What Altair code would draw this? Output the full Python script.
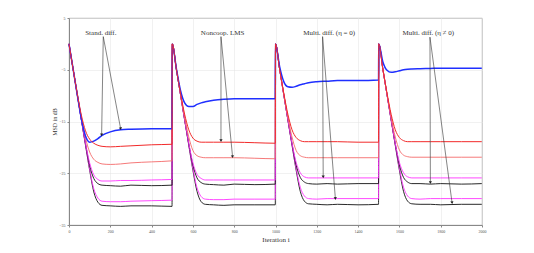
import math
import altair as alt
import pandas as pd

# offsets inside each 500-iteration block
O = [0, 20, 40, 60, 80, 100, 120, 140, 160, 200, 250, 300, 400, 499]

blue = [
    [0, -4.9, -9.8, -14.5, -17.8, -19.0, -18.8, -18.3, -17.7, -17.0, -16.6, -16.5, -16.4, -16.4],
    [0, -4.8, -9.0, -11.4, -12.1, -12.1, -11.7, -11.4, -11.2, -10.9, -10.7, -10.6, -10.6, -10.6],
    [0, -4.4, -7.3, -8.3, -8.4, -8.2, -7.9, -7.7, -7.5, -7.3, -7.2, -7.1, -7.1, -7.0],
    [0, -3.5, -5.1, -5.5, -5.4, -5.2, -5.0, -4.9, -4.85, -4.8, -4.75, -4.7, -4.7, -4.7],
]
red = [
    [0, -4.9, -9.6, -13.8, -16.8, -18.4, -19.2, -19.6, -19.8, -19.9, -19.8, -19.7, -19.5, -19.4],
    [0, -4.9, -9.5, -13.6, -16.6, -18.2, -18.8, -19.0, -19.0, -19.0, -19.0, -19.0, -19.1, -19.2],
    [0, -4.9, -9.5, -13.6, -16.6, -18.1, -18.7, -18.9, -18.9, -18.9, -18.9, -18.9, -19.0, -19.0],
    [0, -4.9, -9.5, -13.6, -16.6, -18.1, -18.7, -18.9, -18.9, -18.9, -18.9, -18.9, -18.9, -18.9],
]
lightred = [
    [0, -4.9, -9.7, -14.3, -18.2, -20.9, -22.3, -22.9, -23.2, -23.3, -23.2, -23.0, -22.8, -22.6],
    [0, -4.9, -9.7, -14.2, -18.0, -20.6, -21.6, -21.9, -22.0, -22.0, -22.0, -22.0, -22.1, -22.2],
    [0, -4.9, -9.7, -14.2, -18.0, -20.6, -21.6, -21.9, -22.0, -22.0, -22.0, -22.0, -22.0, -22.0],
    [0, -4.9, -9.7, -14.2, -18.0, -20.5, -21.5, -21.8, -21.9, -21.9, -21.9, -21.9, -21.9, -21.9],
]
magenta = [
    [0, -4.9, -9.8, -14.6, -19.2, -23.0, -25.3, -26.2, -26.5, -26.5, -26.4, -26.4, -26.3, -26.2],
    [0, -4.9, -9.8, -14.6, -19.2, -23.0, -25.2, -26.0, -26.3, -26.3, -26.3, -26.3, -26.3, -26.3],
    [0, -4.9, -9.8, -14.6, -19.2, -22.9, -24.9, -25.7, -25.9, -25.9, -25.9, -25.9, -25.9, -25.9],
    [0, -4.9, -9.8, -14.6, -19.2, -22.9, -24.9, -25.7, -25.9, -25.9, -25.9, -25.9, -25.9, -25.9],
]
black = [
    [0, -4.9, -9.8, -14.6, -19.3, -23.5, -26.0, -27.0, -27.3, -27.4, -27.5, -27.3, -27.4, -27.3],
    [0, -4.9, -9.8, -14.6, -19.3, -23.4, -25.9, -26.8, -27.1, -27.2, -27.3, -27.1, -27.2, -27.1],
    [0, -4.9, -9.8, -14.6, -19.3, -23.4, -25.8, -26.7, -27.0, -27.1, -27.0, -27.1, -27.0, -27.0],
    [0, -4.9, -9.8, -14.6, -19.3, -23.4, -25.8, -26.7, -27.0, -27.0, -27.1, -27.0, -27.1, -27.0],
]
magenta2 = [
    [0, -4.9, -9.8, -14.7, -19.5, -24.2, -28.0, -29.8, -30.4, -30.5, -30.5, -30.4, -30.3, -30.2],
    [0, -4.9, -9.8, -14.7, -19.5, -24.1, -27.8, -29.5, -30.0, -30.1, -30.1, -30.0, -30.0, -30.0],
    [0, -4.9, -9.8, -14.7, -19.5, -24.1, -27.7, -29.4, -29.9, -30.0, -29.9, -29.9, -29.9, -29.9],
    [0, -4.9, -9.8, -14.7, -19.5, -24.1, -27.7, -29.4, -29.9, -30.0, -29.9, -29.9, -29.9, -29.9],
]
black2 = [
    [0, -4.9, -9.8, -14.7, -19.6, -24.4, -28.6, -30.6, -31.2, -31.3, -31.4, -31.3, -31.3, -31.4],
    [0, -4.9, -9.8, -14.7, -19.6, -24.4, -28.5, -30.5, -31.0, -31.1, -31.2, -31.1, -31.1, -31.1],
    [0, -4.9, -9.8, -14.7, -19.6, -24.4, -28.5, -30.4, -30.9, -31.0, -31.1, -31.0, -31.1, -31.0],
    [0, -4.9, -9.8, -14.7, -19.6, -24.4, -28.5, -30.4, -30.9, -31.0, -31.0, -31.1, -31.0, -31.0],
]

x_ticks = list(range(0, 2001, 200))
y_ticks = [5, 0, -5, -10, -15, -20, -25, -30, -35]

labels = ["Stand. diff.", "Noncoop. LMS", "Multi. diff. (η = 0)", "Multi. diff. (η ≠ 0)"]
label_x = [154, 744, 1260, 1740]
label_y = [2.1, 2.1, 2.1, 2.1]
arrow_x1 = [166, 166, 736, 736, 1228, 1228, 1748, 1748]
arrow_y1 = [1.4, 1.4, 1.4, 1.4, 1.4, 1.4, 1.3, 1.3]
arrow_x2 = [158, 250, 736, 792, 1231, 1290, 1750, 1855]
arrow_y2 = [-17.6, -16.4, -18.7, -21.8, -25.7, -29.9, -26.8, -30.7]

W, H = 413, 207
XD = [0, 2000]
YD = [-35, 5]


def frame(blocks):
    xs, ys = [], []
    for b, vals in enumerate(blocks):
        for o, v in zip(O, vals):
            xs.append(b * 500 + o)
            ys.append(v)
    return pd.DataFrame({"it": xs, "msd": ys})


xs = alt.Scale(domain=XD, nice=False)
ysc = alt.Scale(domain=YD, nice=False)
FONT = "Liberation Serif"

common_axis = dict(labelFontSize=4, labelColor="#555", titleFont=FONT, titleFontWeight="normal",
                   titleColor="#333", labelFont=FONT, domainColor="#888", tickColor="#888",
                   tickSize=2, gridColor="#e2e2e2", gridDash=[1, 1], labelPadding=2,
                   labelOverlap=False, labelFlush=False)


def line(blocks, color, width=1.0, opacity=1.0):
    mk = dict(color=color, strokeWidth=width, interpolate="monotone", opacity=opacity)
    return alt.Chart(frame(blocks)).mark_line(**mk).encode(
        x=alt.X("it:Q", scale=xs,
                axis=alt.Axis(values=x_ticks, title="Iteration i", format="d", titleFontSize=7,
                              titlePadding=2, **common_axis)),
        y=alt.Y("msd:Q", scale=ysc,
                axis=alt.Axis(values=y_ticks, title="MSD in dB", format="d", titleFontSize=6,
                              titlePadding=1, **common_axis)),
    )


layers = [
    line(black2, "#111111", 0.9),
    line(magenta2, "#ff33ff", 0.9),
    line(black, "#111111", 0.9),
    line(magenta, "#ff33ff", 0.9),
    line(lightred, "#f46a6a", 0.9),
    line(blue, "#1f2fff", 1.5),
    line(red, "#f22a2a", 1.0),
]

arr = pd.DataFrame({"x1": arrow_x1, "y1": arrow_y1, "x2": arrow_x2, "y2": arrow_y2})
kx = W / (XD[1] - XD[0])
ky = H / (YD[1] - YD[0])
ang = []
for a, b, c, d in zip(arrow_x1, arrow_y1, arrow_x2, arrow_y2):
    dx = (c - a) * kx
    dy = -(d - b) * ky
    ang.append(math.degrees(math.atan2(dx, -dy)) % 360)
arr["ang"] = ang

rules = alt.Chart(arr).mark_rule(color="#333", strokeWidth=0.6).encode(
    x=alt.X("x1:Q", scale=xs), y=alt.Y("y1:Q", scale=ysc),
    x2="x2:Q", y2="y2:Q")
heads = alt.Chart(arr).mark_point(shape="triangle-up", filled=True, color="#222", size=10, opacity=1).encode(
    x=alt.X("x2:Q", scale=xs), y=alt.Y("y2:Q", scale=ysc), angle=alt.Angle("ang:Q", scale=None))

tdf = pd.DataFrame({"t": labels, "x": label_x, "y": label_y})
texts = alt.Chart(tdf).mark_text(font=FONT, fontSize=7, color="#333").encode(
    x=alt.X("x:Q", scale=xs), y=alt.Y("y:Q", scale=ysc), text="t:N")

chart = alt.layer(*layers, rules, heads, texts).properties(
    width=W, height=H,
    autosize=alt.AutoSizeParams(type="none"),
    padding={"left": 61, "top": 10, "right": 30, "bottom": 20},
    background="white",
).configure_view(stroke="#999", strokeWidth=0.8)

chart.save("out.html", embed_options={"renderer": "svg", "actions": False})
